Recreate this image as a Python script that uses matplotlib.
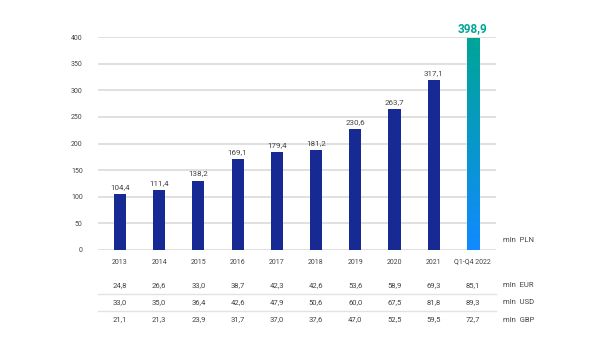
import matplotlib

matplotlib.use("Agg")
import matplotlib.pyplot as plt
import numpy as np
from matplotlib.colors import LinearSegmentedColormap
from matplotlib.transforms import blended_transform_factory

plt.rcParams["font.family"] = ["Roboto", "DejaVu Sans"]

years = ["2013", "2014", "2015", "2016", "2017", "2018", "2019", "2020", "2021", "Q1-Q4 2022"]
pln_heights = [104.5, 112.0, 130.0, 170.0, 184.0, 187.5, 227.0, 264.5, 319.5, 398.9]
pln_labels = ["104,4", "111,4", "138,2", "169,1", "179,4", "181,2", "230,6", "263,7", "317,1", "398,9"]
eur = ["24,8", "26,6", "33,0", "38,7", "42,3", "42,6", "53,6", "58,9", "69,3", "85,1"]
usd = ["33,0", "35,0", "36,4", "42,6", "47,9", "50,6", "60,0", "67,5", "81,8", "89,3"]
gbp = ["21,1", "21,3", "23,9", "31,7", "37,0", "37,6", "47,0", "52,5", "59,5", "72,7"]
yticks = [0, 50, 100, 150, 200, 250, 300, 350, 400]

NAVY = "#172a94"
TEAL = "#00a596"
BLUE = "#118aff"
INK = "#444444"
GRID = "#dadada"

W, H = 600, 337
fig = plt.figure(figsize=(W / 100, H / 100), dpi=100)
ax = fig.add_axes([98 / W, (H - 250) / H, 398 / W, 213 / H])

x = np.arange(len(years))
bars = ax.bar(x, pln_heights, width=0.31, color=NAVY, zorder=3)

# last bar gets a teal->blue gradient
last = bars[-1]
last.set_facecolor("none")
grad = LinearSegmentedColormap.from_list("g", [BLUE, TEAL])
bx, bw, bh = last.get_x(), last.get_width(), last.get_height()
im = ax.imshow(np.linspace(0, 1, 256).reshape(-1, 1), cmap=grad, origin="lower",
               extent=[bx, bx + bw, 0, bh], aspect="auto", zorder=3)
im.set_clip_path(last)

for xi, h, lab in zip(x[:-1], pln_heights[:-1], pln_labels[:-1]):
    ax.annotate(lab, (xi, h), xytext=(0, 3), textcoords="offset points",
                ha="center", va="bottom", fontsize=5.8, color=INK)
ax.annotate(pln_labels[-1], (x[-1], pln_heights[-1]), xytext=(0, 1.5), textcoords="offset points",
            ha="center", va="bottom", fontsize=8.5, color=TEAL, fontweight="bold")

ax.set_xlim(-0.56, 9.59)
ax.set_ylim(0, 400)
ax.set_yticks(yticks)
ax.set_yticklabels([str(t) for t in yticks])
ax.tick_params(axis="y", length=0, pad=11, labelsize=5, labelcolor=INK)
ax.set_xticks([])
for s in ax.spines.values():
    s.set_visible(False)
ax.grid(axis="y", color=GRID, lw=1.2, zorder=0)
ax.set_axisbelow(True)

# table below the chart
tr = blended_transform_factory(ax.transData, fig.transFigure)
fy = lambda ypx: (H - ypx) / H
for xi, yr in zip(x, years):
    ax.text(xi, fy(262), yr, transform=tr, ha="center", va="center", fontsize=5, color=INK)
for row, ypx in [(eur, 285), (usd, 302), (gbp, 319.5)]:
    for xi, v in zip(x, row):
        ax.text(xi, fy(ypx), v, transform=tr, ha="center", va="center", fontsize=5.5, color=INK)
for ypx in (293.5, 310.8):
    ax.plot([-0.56, 9.59], [fy(ypx)] * 2, transform=tr, color="#e2e2e2", lw=1.0, clip_on=False)

for lab, ypx in [("mln  PLN", 240), ("mln  EUR", 285), ("mln  USD", 302), ("mln  GBP", 319.5)]:
    fig.text(503 / W, fy(ypx), lab, ha="left", va="center", fontsize=5.5, color=INK)

fig.savefig("out.png", dpi=100)
